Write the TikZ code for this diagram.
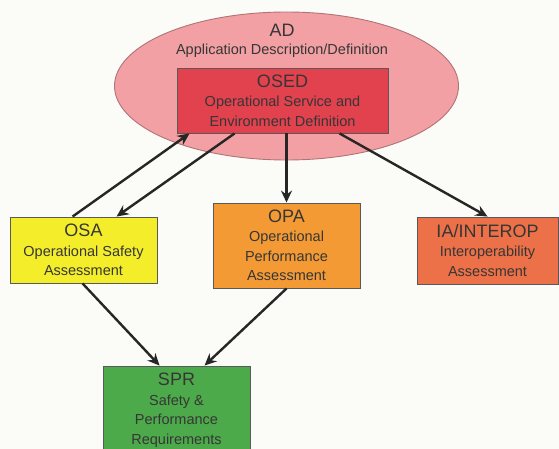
\documentclass[tikz,border=0pt]{standalone}
\usepackage{fontspec}
\setmainfont{Liberation Sans}
\usetikzlibrary{arrows.meta,shapes.geometric}
\definecolor{bgc}{HTML}{FBFBF8}
\definecolor{txt}{HTML}{363636}
\definecolor{ellfill}{HTML}{F2A0A3}
\definecolor{ellline}{HTML}{B07476}
\definecolor{osedfill}{HTML}{E2414E}
\definecolor{osafill}{HTML}{F4EE2A}
\definecolor{opafill}{HTML}{F39A35}
\definecolor{iafill}{HTML}{EC7048}
\definecolor{sprfill}{HTML}{4DAA4A}
\tikzset{
  box/.style={draw=black!65, line width=0.9pt, rectangle, inner sep=0pt, align=center, text=txt, font=\fontsize{14.5}{19.5}\selectfont},
  conn/.style={draw=black!85, line width=2.4pt, -{Stealth[length=12pt,width=11pt,inset=4pt]}},
}
\newcommand{\ttl}[1]{{\fontsize{18}{19.5}\selectfont #1}}
\begin{document}
\begin{tikzpicture}[x=1pt,y=-1pt]
\path[fill=bgc] (0,0) rectangle (559,449);
\useasboundingbox (0,0) rectangle (559,449);
\node[ellipse, draw=ellline, line width=0.9pt, fill=ellfill, minimum width=344pt, minimum height=148pt, inner sep=0pt] (ad) at (286.5,86) {};
\node[align=center, text=txt, font=\fontsize{14.5}{18.5}\selectfont] (adlabel) at (282,41) {\ttl{AD}\\Application Description/Definition};
\node[box, fill=osedfill, minimum width=211pt, minimum height=65pt] (osed) at (282.5,100.5) {\ttl{OSED}\\Operational Service and\\Environment Definition};
\node[box, fill=osafill, minimum width=147pt, minimum height=66pt] (osa) at (83.5,250) {\ttl{OSA}\\Operational Safety\\Assessment};
\node[box, fill=opafill, minimum width=147pt, minimum height=85pt] (opa) at (286.5,245.5) {\ttl{OPA}\\Operational\\Performance\\Assessment};
\node[box, fill=iafill, minimum width=141pt, minimum height=67pt] (ia) at (487.5,250.5) {\ttl{IA/INTEROP}\\Interoperability\\Assessment};
\node[box, fill=sprfill, minimum width=147pt, minimum height=88pt] (spr) at (176.5,410) {\ttl{SPR}\\Safety \&\\Performance\\Requirements};
\draw[conn] ([xshift=63pt]osa.north west) -- ([xshift=13pt]osed.south west);
\draw[conn] ([xshift=58pt]osed.south west) -- ([xshift=107pt]osa.north west);
\draw[conn] (opa.north |- osed.south) -- (opa.north);
\draw[conn] ([xshift=163pt]osed.south west) -- ([xshift=71pt]ia.north west);
\draw[conn] ([xshift=73pt]osa.south west) -- ([xshift=57pt]spr.north west);
\draw[conn] ([xshift=74pt]opa.south west) -- ([xshift=102pt]spr.north west);
\end{tikzpicture}
\end{document}
